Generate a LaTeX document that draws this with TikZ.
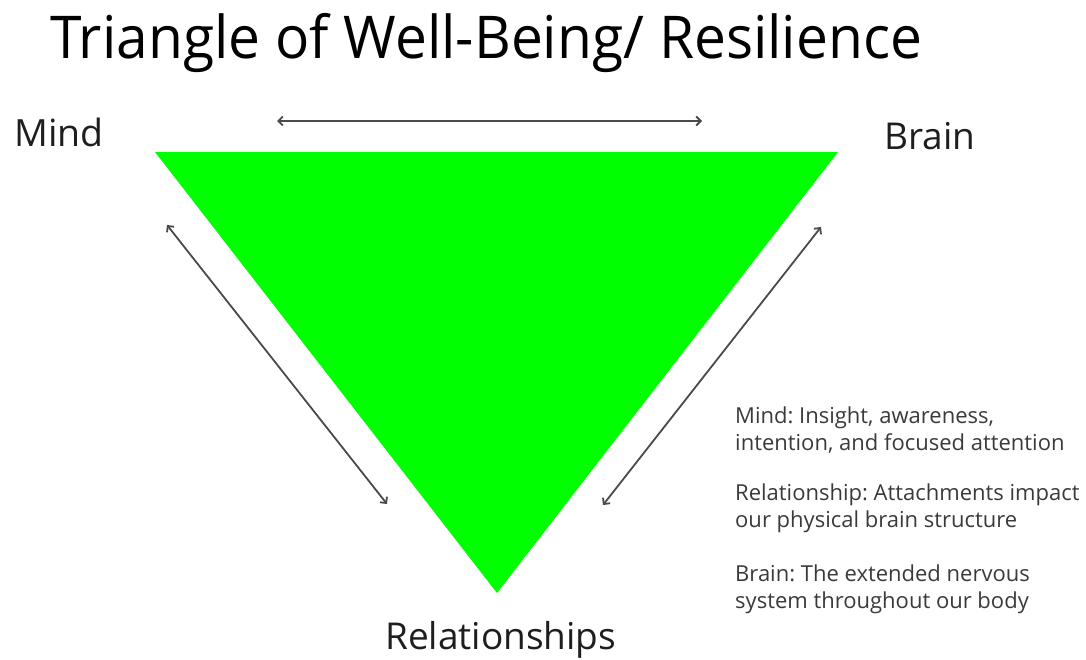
\documentclass[tikz,border=0pt]{standalone}
\usepackage{fontspec}
\setmainfont{Open Sans}
\usetikzlibrary{arrows.meta}
\definecolor{trigreen}{HTML}{00FF00}
\definecolor{arrowgray}{HTML}{4A4A4A}
\definecolor{labelgray}{HTML}{1E1E1E}
\definecolor{notegray}{HTML}{3A3A3A}
\tikzset{
  twoway/.style={draw=arrowgray, line width=1.8pt, {Straight Barb[length=4.5pt,width=9pt]}-{Straight Barb[length=4.5pt,width=9pt]}},
  corner/.style={text=labelgray, inner sep=0pt, font=\fontsize{37.5}{40}\selectfont, anchor=base west},
  note/.style={text=notegray, inner sep=0pt, font=\fontsize{22}{26.5}\selectfont, align=left, anchor=base west}
}
\begin{document}
\frenchspacing
\begin{tikzpicture}[x=1pt,y=-1pt]
\useasboundingbox (0,0) rectangle (1086,660);
\node[inner sep=0pt, anchor=base west, font=\fontsize{59}{62}\selectfont] (title) at (50,59) {\scalebox{0.964}[1]{Triangle of Well-Being/ Resilience}};
\coordinate (tl) at (155,152);
\coordinate (tr) at (838,152);
\coordinate (bt) at (497,593);
\fill[trigreen] (tl) -- (tr) -- (bt) -- cycle;
\coordinate (a1) at (277,121);
\coordinate (a2) at (702,121);
\coordinate (b1) at (167,225);
\coordinate (b2) at (387,504);
\coordinate (c1) at (821,227);
\coordinate (c2) at (603,505);
\draw[twoway] (a1) -- (a2);
\draw[twoway] (b1) -- (b2);
\draw[twoway] (c1) -- (c2);
\node[corner] (mind) at (14,147) {Mind};
\node[corner, font=\fontsize{37}{40}\selectfont] (brain) at (884,150) {Brain};
\node[corner, font=\fontsize{37}{40}\selectfont] (rel) at (385,649) {Relationships};
\node[note] (n1) at (735,450) {Mind: Insight, awareness,\\intention, and focused attention};
\node[note] (n2) at (735,527) {Relationship: Attachments impact\\our physical brain structure};
\node[note] (n3) at (735,608) {Brain: The extended nervous\\system throughout our body};
\end{tikzpicture}
\end{document}
